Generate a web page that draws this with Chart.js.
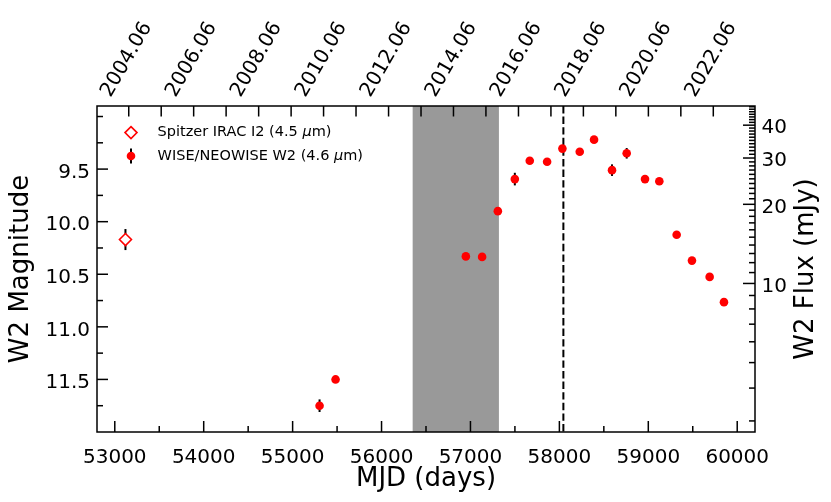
<!DOCTYPE html>
<html>
<head>
    <meta charset="utf-8" />
    <title>W2 light curve</title>
    <script src="https://cdn.jsdelivr.net/npm/chart.js"></script>
    <style>
        html, body { margin: 0; padding: 0; background: #fff; }
        #wrap { width: 831px; height: 502px; }
        canvas { display: block; }
    </style>
</head>
<body>
    <div id="wrap">
        <canvas id="lc" width="831" height="502"></canvas>
    </div>

    <script>
        // Spitzer IRAC I2 (4.5 um)
        const spitzerMjd = [53120];
        const spitzerMag = [10.17];
        const spitzerErr = [0.10];

        // WISE / NEOWISE W2 (4.6 um)
        const wiseMjd = [55303, 55483, 56948, 57131, 57308, 57499, 57667, 57862, 58034, 58229,
                         58390, 58592, 58757, 58963, 59124, 59319, 59491, 59690, 59851];
        const wiseMag = [11.75, 11.50, 10.33, 10.335, 9.90, 9.595, 9.42, 9.43, 9.305, 9.335,
                         9.22, 9.51, 9.35, 9.595, 9.615, 10.125, 10.37, 10.525, 10.765];
        const wiseErr = [0.06, 0.02, 0.02, 0.02, 0.02, 0.06, 0.02, 0.02, 0.02, 0.02,
                         0.02, 0.055, 0.05, 0.02, 0.02, 0.02, 0.02, 0.02, 0.02];

        // axes
        const mjdTicks = [53000, 54000, 55000, 56000, 57000, 58000, 59000, 60000];
        const mjdMinor = [53500, 54500, 55500, 56500, 57500, 58500, 59500];
        const magTicks = [9.5, 10.0, 10.5, 11.0, 11.5];
        const magMinor = [9.0, 9.25, 9.75, 10.25, 10.75, 11.25, 11.75];
        const fluxTicks = [10, 20, 30, 40];
        const fluxMinor = [3, 4, 5, 6, 7, 8, 9, 11, 12, 13, 14, 15, 16, 17, 18, 19,
                           21, 22, 23, 24, 25, 26, 27, 28, 29, 31, 32, 33, 34, 35, 36, 37, 38, 39,
                           41, 42, 43, 44, 45, 46, 47];
        const yearTicks = [2004, 2005, 2006, 2007, 2008, 2009, 2010, 2011, 2012, 2013,
                           2014, 2015, 2016, 2017, 2018, 2019, 2020, 2021, 2022];

        const gapStart = 56350, gapEnd = 57320;   // shaded interval
        const eventMjd = 58045;                   // dashed line
        const W2_ZP = 171787;                     // W2 zero point, mJy

        const mjdMin = 52800, mjdMax = 60200;
        const magMin = 8.9, magMax = 12.0;

        const FONT = "'DejaVu Sans', sans-serif";
        Chart.defaults.font.family = FONT;
        Chart.defaults.color = '#000';

        function fluxToMag(f) { return 2.5 * Math.log10(W2_ZP / f); }
        function yearToMjd(y) { return (Date.UTC(y, 5, 1) - Date.UTC(1858, 10, 17)) / 864e5; }

        function points(xs, ys, es) {
            return xs.map((v, i) => ({ x: v, y: ys[i], err: es[i] }));
        }

        function tickMarks(ctx, scale, values, len, side, a) {
            values.forEach(v => {
                const p = scale.getPixelForValue(v);
                if (side === 'bottom' || side === 'top') {
                    if (p < a.left || p > a.right) return;
                } else if (p < a.top || p > a.bottom) return;
                ctx.beginPath();
                if (side === 'bottom') { ctx.moveTo(p, a.bottom); ctx.lineTo(p, a.bottom - len); }
                if (side === 'top') { ctx.moveTo(p, a.top); ctx.lineTo(p, a.top + len); }
                if (side === 'left') { ctx.moveTo(a.left, p); ctx.lineTo(a.left + len, p); }
                if (side === 'right') { ctx.moveTo(a.right, p); ctx.lineTo(a.right - len, p); }
                ctx.stroke();
            });
        }

        function richText(ctx, parts, x, y, size) {
            parts.forEach(([txt, style]) => {
                ctx.font = style + ' ' + size + 'px ' + FONT;
                ctx.fillText(txt, x, y);
                x += ctx.measureText(txt).width;
            });
        }

        const decor = {
            id: 'decor',
            beforeDatasetsDraw(chart) {
                const { ctx, chartArea: a, scales: { x, y } } = chart;
                ctx.save();
                const x0 = x.getPixelForValue(gapStart), x1 = x.getPixelForValue(gapEnd);
                ctx.fillStyle = 'rgba(128,128,128,0.8)';
                ctx.fillRect(x0, a.top, x1 - x0, a.bottom - a.top);

                const xe = x.getPixelForValue(eventMjd);
                ctx.strokeStyle = '#000';
                ctx.lineWidth = 2;
                ctx.setLineDash([7.4, 3.2]);
                ctx.beginPath();
                ctx.moveTo(xe, a.top);
                ctx.lineTo(xe, a.bottom);
                ctx.stroke();
                ctx.setLineDash([]);

                // error bars
                chart.data.datasets.forEach(ds => {
                    ds.data.forEach(p => {
                        const px = x.getPixelForValue(p.x);
                        ctx.beginPath();
                        ctx.moveTo(px, y.getPixelForValue(p.y - p.err));
                        ctx.lineTo(px, y.getPixelForValue(p.y + p.err));
                        ctx.stroke();
                    });
                });
                ctx.restore();
            },
            afterDraw(chart) {
                const { ctx, chartArea: a, scales } = chart;
                ctx.save();
                ctx.strokeStyle = '#000';
                ctx.lineWidth = 1.5;
                ctx.strokeRect(a.left, a.top, a.right - a.left, a.bottom - a.top);

                tickMarks(ctx, scales.x, mjdTicks, 11, 'bottom', a);
                tickMarks(ctx, scales.x, mjdMinor, 6, 'bottom', a);
                tickMarks(ctx, scales.xTop, yearTicks.map(yearToMjd), 10.5, 'top', a);
                tickMarks(ctx, scales.y, magTicks, 11, 'left', a);
                tickMarks(ctx, scales.y, magMinor, 6, 'left', a);
                tickMarks(ctx, scales.yR, fluxTicks.map(fluxToMag), 12, 'right', a);
                tickMarks(ctx, scales.yR, fluxMinor.map(fluxToMag), 6, 'right', a);

                // right axis title, reading bottom to top
                ctx.fillStyle = '#000';
                ctx.font = '26px ' + FONT;
                ctx.textAlign = 'center';
                ctx.textBaseline = 'middle';
                ctx.translate(806.5, (a.top + a.bottom) / 2);
                ctx.rotate(-Math.PI / 2);
                ctx.fillText('W2 Flux (mJy)', 0, 0);
                ctx.restore();

                // legend
                ctx.save();
                const lx = a.left + 34, ly1 = a.top + 26.6, ly2 = a.top + 50, tx = a.left + 60.6;
                ctx.beginPath();
                ctx.moveTo(lx, ly1 - 6);
                ctx.lineTo(lx + 6, ly1);
                ctx.lineTo(lx, ly1 + 6);
                ctx.lineTo(lx - 6, ly1);
                ctx.closePath();
                ctx.fillStyle = '#fff';
                ctx.fill();
                ctx.strokeStyle = '#ff0000';
                ctx.lineWidth = 1.6;
                ctx.stroke();

                ctx.strokeStyle = '#000';
                ctx.lineWidth = 2;
                ctx.beginPath();
                ctx.moveTo(lx, ly2 - 7.5);
                ctx.lineTo(lx, ly2 + 7.5);
                ctx.stroke();
                ctx.beginPath();
                ctx.arc(lx, ly2, 4.3, 0, Math.PI * 2);
                ctx.fillStyle = '#ff0000';
                ctx.fill();

                ctx.fillStyle = '#000';
                ctx.textAlign = 'left';
                ctx.textBaseline = 'middle';
                richText(ctx, [['Spitzer IRAC I2 (4.5 ', ''], ['\u03bc', 'italic'], ['m)', '']], tx, ly1, 14.5);
                richText(ctx, [['WISE/NEOWISE W2 (4.6 ', ''], ['\u03bc', 'italic'], ['m)', '']], tx, ly2, 14.5);
                ctx.restore();
            }
        };

        const tickFont = { size: 20 };
        const noGrid = { display: false, drawTicks: false };
        const noBorder = { display: false };

        new Chart(document.getElementById('lc'), {
            type: 'scatter',
            data: {
                datasets: [{
                    label: 'Spitzer IRAC I2 (4.5 \u03bcm)',
                    data: points(spitzerMjd, spitzerMag, spitzerErr),
                    pointStyle: 'rectRot',
                    pointRadius: 6,
                    pointBorderWidth: 1.6,
                    pointBorderColor: '#ff0000',
                    pointBackgroundColor: '#ffffff'
                }, {
                    label: 'WISE/NEOWISE W2 (4.6 \u03bcm)',
                    data: points(wiseMjd, wiseMag, wiseErr),
                    pointStyle: 'circle',
                    pointRadius: 4.3,
                    pointBorderWidth: 0,
                    pointBackgroundColor: '#ff0000'
                }]
            },
            options: {
                responsive: false,
                animation: false,
                events: [],
                layout: { padding: 0 },
                plugins: { legend: { display: false }, tooltip: { enabled: false } },
                scales: {
                    x: {
                        type: 'linear', position: 'bottom', min: mjdMin, max: mjdMax,
                        grid: noGrid, border: noBorder,
                        ticks: { font: tickFont, padding: 13.5, maxRotation: 0, autoSkip: false, callback: v => String(v) },
                        title: { display: true, text: 'MJD (days)', font: { size: 26 }, padding: { top: 0, bottom: 7 } },
                        afterBuildTicks: s => { s.ticks = mjdTicks.map(v => ({ value: v })); },
                        afterFit: s => { s.height = 70; }
                    },
                    xTop: {
                        type: 'linear', position: 'top', min: mjdMin, max: mjdMax,
                        grid: noGrid, border: noBorder,
                        ticks: {
                            font: tickFont, padding: 4.5, labelOffset: -2, minRotation: 60, maxRotation: 60, autoSkip: false,
                            callback: (v, i) => (yearTicks[i] % 2 === 0 ? yearTicks[i] + '.06' : '')
                        },
                        afterBuildTicks: s => { s.ticks = yearTicks.map(yr => ({ value: yearToMjd(yr) })); },
                        afterFit: s => { s.height = 106; }
                    },
                    y: {
                        type: 'linear', position: 'left', reverse: true, min: magMin, max: magMax,
                        grid: noGrid, border: noBorder,
                        ticks: { font: tickFont, padding: 7, labelOffset: 3.5, callback: v => v.toFixed(1) },
                        title: { display: true, text: 'W2 Magnitude', font: { size: 26 }, padding: { top: 6, bottom: 0 } },
                        afterBuildTicks: s => { s.ticks = magTicks.map(v => ({ value: v })); },
                        afterFit: s => { s.width = 97; }
                    },
                    yR: {
                        type: 'linear', position: 'right', reverse: true, min: magMin, max: magMax,
                        grid: noGrid, border: noBorder,
                        ticks: { font: tickFont, padding: 6.5, labelOffset: 3, callback: (v, i) => String(fluxTicks[i]) },
                        afterBuildTicks: s => { s.ticks = fluxTicks.map(f => ({ value: fluxToMag(f) })); },
                        afterFit: s => { s.width = 76; }
                    }
                }
            },
            plugins: [decor]
        });
    </script>
</body>
</html>
